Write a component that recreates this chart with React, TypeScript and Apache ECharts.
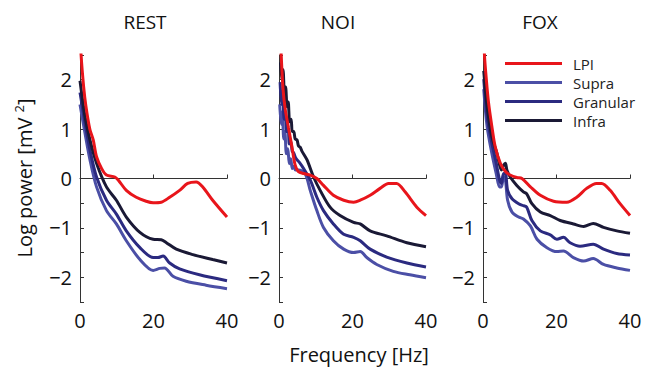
import React, { useEffect, useRef } from "react";
import * as echarts from "echarts";

const panels = ["REST", "NOI", "FOX"];
const layers = ["LPI", "Supra", "Granular", "Infra"];
const xTicks = [0, 20, 40];
const yTicks = [-2, -1, 0, 1, 2];

const restLPI = [[0, 3.1], [0.3, 2.5], [1.0, 1.85], [1.6, 1.47], [2.7, 0.99], [3.6, 0.78], [4.5, 0.44], [5.9, 0.2], [7.2, 0.07], [9.5, 0.03], [10.4, -0.03], [12.6, -0.24], [15.3, -0.38], [18, -0.46], [19.9, -0.49], [22.1, -0.48], [24.4, -0.38], [27.1, -0.24], [29.3, -0.1], [31.6, -0.07], [33.4, -0.17], [36.1, -0.44], [40, -0.78]];
const restInfra = [[0, 1.98], [1.35, 1.26], [2.7, 0.78], [4.5, 0.31], [7.2, -0.17], [9.9, -0.44], [12.6, -0.78], [16.3, -1.09], [19.9, -1.23], [22.1, -1.24], [23.5, -1.3], [26.2, -1.43], [30.7, -1.54], [36.1, -1.64], [40, -1.71]];
const restGranular = [[0, 1.74], [1.35, 1.13], [2.7, 0.58], [4.5, 0.03], [7.2, -0.44], [9.9, -0.72], [12.6, -1.06], [16.3, -1.4], [19.9, -1.6], [21.2, -1.6], [22.6, -1.57], [24.4, -1.71], [27.1, -1.83], [32.5, -1.95], [40, -2.07]];
const restSupra = [[0, 1.5], [1.35, 0.92], [2.7, 0.38], [4.5, -0.17], [7.2, -0.65], [9.9, -0.92], [12.6, -1.26], [16.3, -1.64], [19.9, -1.86], [21.7, -1.82], [23, -1.81], [25.3, -1.98], [28.9, -2.08], [34.3, -2.16], [40, -2.23]];

const noiLPI = [[0.4, 3.0], [0.6, 2.5], [1.1, 1.81], [1.7, 1.4], [2.6, 1.02], [3.5, 0.65], [4.4, 0.27], [5.3, 0.14], [6.7, 0.1], [8.5, 0.07], [10.3, 0], [12.1, -0.14], [14.8, -0.34], [17.6, -0.44], [20.3, -0.48], [22.1, -0.44], [24.8, -0.34], [27.5, -0.2], [29.8, -0.1], [32, -0.1], [34.3, -0.27], [37.5, -0.58], [40, -0.75]];
const noiInfra = [[0.4, 2.35], [0.8, 2.0], [1.1, 2.2], [1.5, 1.7], [1.8, 1.85], [2.2, 1.45], [2.5, 1.55], [2.9, 1.15], [3.3, 1.2], [3.6, 0.95], [4.0, 0.95], [4.4, 0.8], [4.9, 0.78], [5.3, 0.66], [5.8, 0.63], [6.2, 0.56], [7.6, 0.38], [9.4, 0.03], [11.2, -0.24], [13.9, -0.58], [16.6, -0.75], [20.3, -0.89], [22.1, -0.92], [24.8, -1.06], [29.3, -1.16], [34.8, -1.3], [40, -1.38]];
const noiGranular = [[0.3, 1.95], [0.7, 1.5], [1.0, 1.7], [1.4, 1.2], [1.7, 1.35], [2.1, 0.95], [2.5, 1.0], [2.8, 0.7], [3.2, 0.75], [3.6, 0.55], [4.0, 0.52], [4.5, 0.42], [4.9, 0.38], [5.5, 0.33], [6.7, 0.2], [8.5, -0.03], [10.3, -0.38], [12.1, -0.65], [14.8, -0.92], [17.6, -1.13], [20.3, -1.19], [22.1, -1.26], [24.8, -1.43], [29.3, -1.59], [34.8, -1.71], [40, -1.79]];
const noiSupra = [[0.2, 1.5], [0.6, 1.1], [0.9, 1.35], [1.3, 0.8], [1.6, 0.95], [2.0, 0.5], [2.4, 0.6], [2.8, 0.3], [3.2, 0.4], [3.6, 0.2], [4.0, 0.25], [4.5, 0.17], [5.3, 0.17], [7.1, 0.1], [8.5, -0.24], [10.3, -0.65], [12.1, -0.99], [14.8, -1.26], [17.6, -1.43], [20.3, -1.5], [22.1, -1.48], [23.9, -1.6], [26.6, -1.74], [31.1, -1.88], [35.6, -1.95], [40, -2.01]];

const foxLPI = [[0.2, 3.0], [0.4, 2.5], [0.9, 2.01], [1.5, 1.54], [2.4, 1.06], [3.3, 0.65], [4.7, 0.31], [6.1, 0.14], [7.4, 0.07], [9.2, 0.02], [10.6, 0], [12.9, -0.17], [15.6, -0.34], [19.2, -0.46], [22.8, -0.48], [25.5, -0.38], [28.2, -0.2], [30.9, -0.1], [32.3, -0.1], [34.6, -0.24], [37.3, -0.51], [40, -0.75]];
const foxInfra = [[0.2, 2.18], [1.1, 1.47], [2.4, 0.85], [3.8, 0.51], [5.0, 0.17], [5.6, 0.27], [6.1, 0.31], [6.5, 0.17], [7.4, 0.03], [9.2, -0.14], [11, -0.27], [11.9, -0.31], [13.3, -0.51], [15.6, -0.68], [18.3, -0.75], [21, -0.85], [24.6, -0.92], [27.4, -0.97], [30, -0.91], [32.8, -0.99], [36.4, -1.06], [40, -1.11]];
const foxGranular = [[0.2, 2.01], [1.1, 1.26], [2.4, 0.72], [3.6, 0.31], [4.5, -0.03], [5.0, -0.1], [5.6, 0.1], [6.1, 0.1], [6.7, -0.24], [7.9, -0.41], [9.7, -0.51], [11, -0.55], [11.9, -0.58], [13.3, -0.85], [15.6, -1.06], [18.3, -1.14], [20.1, -1.23], [21.9, -1.19], [23.7, -1.3], [26.4, -1.37], [30, -1.33], [32.8, -1.43], [36.4, -1.52], [40, -1.55]];
const foxSupra = [[0.2, 1.81], [1.1, 1.06], [2.4, 0.51], [3.6, 0.1], [4.5, -0.17], [5.0, -0.17], [5.6, 0.03], [6.1, -0.03], [6.7, -0.44], [7.9, -0.68], [9.7, -0.78], [11, -0.82], [12.9, -0.96], [14.7, -1.23], [17.4, -1.4], [20.1, -1.48], [21.9, -1.47], [24.6, -1.6], [27.4, -1.67], [30, -1.62], [32.8, -1.74], [36.4, -1.81], [40, -1.86]];

const panelData: Record<string, number[][]>[] = [
  { LPI: restLPI, Supra: restSupra, Granular: restGranular, Infra: restInfra },
  { LPI: noiLPI, Supra: noiSupra, Granular: noiGranular, Infra: noiInfra },
  { LPI: foxLPI, Supra: foxSupra, Granular: foxGranular, Infra: foxInfra },
];

const colors: Record<string, string> = {
  LPI: "#e8151b",
  Supra: "#4b4fa6",
  Granular: "#2b2a80",
  Infra: "#1a1935",
};
const zOrder: Record<string, number> = { LPI: 5, Supra: 2, Granular: 3, Infra: 4 };

const gridLefts = [80, 279, 483];
const titleX = [145, 338, 540];
const gridWidth = 147;
const gridTop = 55;
const gridHeight = 247;
const font = "'Open Sans', 'Liberation Sans', sans-serif";

export default function App() {
  const ref = useRef<HTMLDivElement>(null);
  useEffect(() => {
    if (!ref.current) return;
    const chart = echarts.init(ref.current, undefined, { renderer: "svg" });
    const grids = gridLefts.map((l) => ({ left: l, top: gridTop, width: gridWidth, height: gridHeight }));
    const xAxes = gridLefts.map((_, i) => ({
      type: "value",
      gridIndex: i,
      min: 0,
      max: 40,
      interval: 20,
      axisLine: { show: true, lineStyle: { color: "#333", width: 1 } },
      axisTick: { show: true, inside: true, length: 4, lineStyle: { color: "#333" } },
      axisLabel: { fontSize: 20, color: "#111", margin: 8, fontFamily: font, showMinLabel: true, showMaxLabel: true },
      splitLine: { show: false },
    }));
    const yAxes = gridLefts.map((_, i) => ({
      type: "value",
      gridIndex: i,
      min: -2.5,
      max: 2.5,
      interval: 0.5,
      axisLine: { show: true, lineStyle: { color: "#333", width: 1 } },
      axisTick: { show: true, inside: true, length: 4, lineStyle: { color: "#333" } },
      axisLabel: {
        fontSize: 20,
        color: "#111",
        margin: 8,
        fontFamily: font,
        formatter: (v: number) => (yTicks.includes(v) ? (v < 0 ? "\u2212" + Math.abs(v) : String(v)) : ""),
      },
      splitLine: { show: false },
    }));
    const series: any[] = [];
    panelData.forEach((pd, i) => {
      layers.forEach((name) => {
        series.push({
          type: "line",
          name,
          xAxisIndex: i,
          yAxisIndex: i,
          data: pd[name],
          showSymbol: false,
          symbol: "none",
          smooth: 0.3,
          clip: true,
          z: zOrder[name],
          lineStyle: { color: colors[name], width: 3 },
          itemStyle: { color: colors[name] },
        });
      });
    });
    chart.setOption({
      animation: false,
      grid: grids,
      xAxis: xAxes,
      yAxis: yAxes,
      series,
      legend: {
        data: layers,
        orient: "vertical",
        left: 500,
        top: 51,
        itemWidth: 57,
        itemHeight: 3,
        itemGap: 4,
        icon: "rect",
        textStyle: { fontSize: 15, lineHeight: 15, color: "#222", fontFamily: font, padding: [0, 0, 0, 6] },
      },
      graphic: [
        ...panels.map((p, i) => ({
          type: "text",
          x: titleX[i],
          y: 22,
          style: { text: p, fontSize: 19, fill: "#111", fontFamily: font, align: "center", verticalAlign: "middle" },
        })),
        {
          type: "text",
          x: 24,
          y: 178,
          rotation: Math.PI / 2,
          style: {
            text: "Log power [mV {s|2}]",
            rich: { s: { fontSize: 13, verticalAlign: "top", padding: [0, 0, 10, 0], fill: "#111", fontFamily: font } },
            fontSize: 20,
            fill: "#111",
            fontFamily: font,
            align: "center",
            verticalAlign: "middle",
          },
        },
        {
          type: "text",
          x: 359,
          y: 354,
          style: { text: "Frequency [Hz]", fontSize: 20, fill: "#111", fontFamily: font, align: "center", verticalAlign: "middle" },
        },
      ],
    });
    return () => chart.dispose();
  }, []);
  return <div ref={ref} style={{ position: "fixed", left: 0, top: 0, width: 645, height: 368, background: "#fff" }} />;
}
